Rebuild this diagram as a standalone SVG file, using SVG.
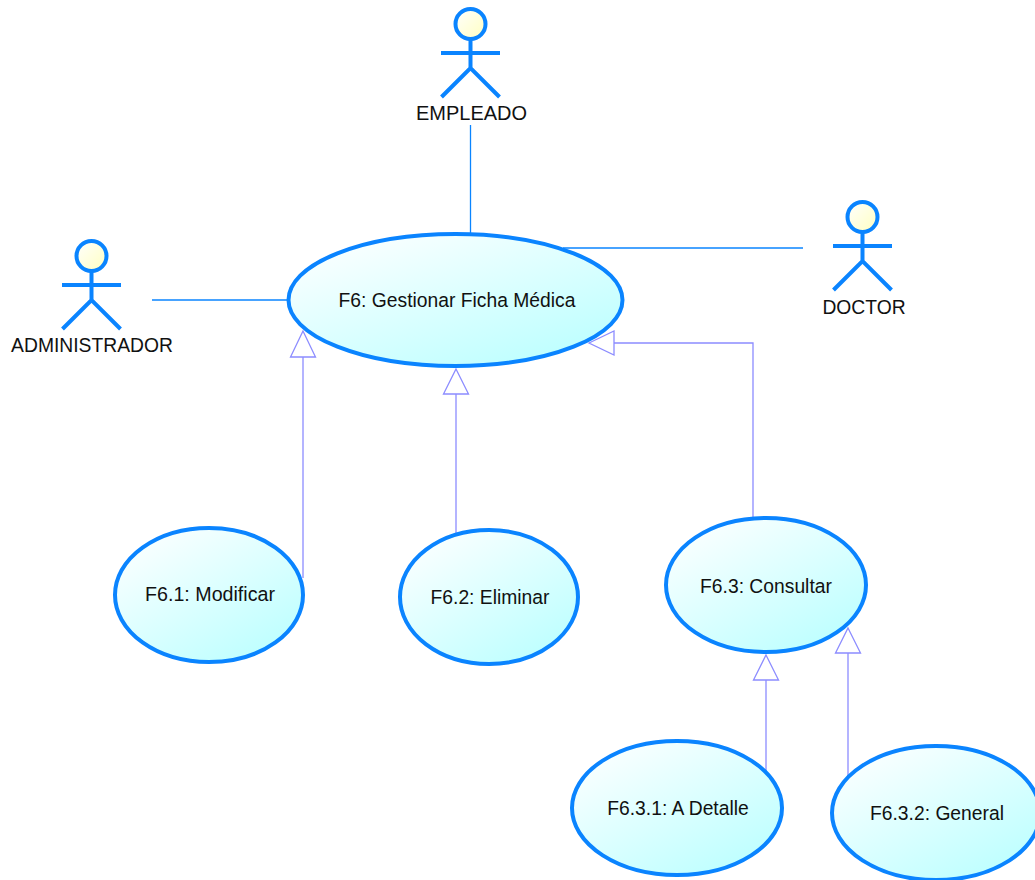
<svg xmlns="http://www.w3.org/2000/svg" width="1035" height="880" viewBox="0 0 1035 880">
<style>
.uc{stroke:#0a84ff;stroke-width:4;fill:url(#g)}
.lbl{font-family:"Liberation Sans",Arial,sans-serif;font-size:19.300px;fill:#111;text-anchor:middle}
.st{stroke:#0a84ff;stroke-width:4;fill:none}
.hd{stroke:#0a84ff;stroke-width:4;fill:url(#h)}
.assoc{stroke:#0a84ff;stroke-width:1.3;fill:none}
.gen{stroke:#8c8cff;stroke-width:1.3;fill:none}
.tri{stroke:#8c8cff;stroke-width:1.3;fill:#fff}
</style>
<defs>
<linearGradient id="g" x1="0.1" y1="0" x2="0.9" y2="1"><stop offset="0" stop-color="#fff"/><stop offset="1" stop-color="#b8ffff"/></linearGradient>
<linearGradient id="h" x1="0" y1="0" x2="1" y2="1"><stop offset="0" stop-color="#fff"/><stop offset="1" stop-color="#ffffc0"/></linearGradient>
<g id="stick"><circle class="hd" cx="0" cy="0" r="15"/><path class="st" d="M0 15V44M-29.500 29H29.500M-29 73L0 44L29 73"/></g>
</defs>
<g id="connectors">
<path class="assoc" d="M470.500 125V234"/>
<path class="assoc" d="M563 248H803"/>
<path class="assoc" d="M152 300H288"/>
<path class="gen" d="M303 357V578"/>
<path class="tri" d="M303 331L315.500 357H290.500Z"/>
<path class="gen" d="M456 394V533"/>
<path class="tri" d="M456 369L468.500 394H443.500Z"/>
<path class="gen" d="M753 519V343H613"/>
<path class="tri" d="M589 343L614 331V355Z"/>
<path class="gen" d="M766 680V771"/>
<path class="tri" d="M766 655L778.500 680H753.500Z"/>
<path class="gen" d="M848 653V776"/>
<path class="tri" d="M848 628L860.500 653H835.500Z"/>
</g>
<g id="empleado"><use href="#stick" x="470.500" y="24"/><text class="lbl" x="471.500" y="120" textLength="111" lengthAdjust="spacingAndGlyphs">EMPLEADO</text></g>
<g id="doctor"><use href="#stick" x="862.500" y="217"/><text class="lbl" x="864" y="314">DOCTOR</text></g>
<g id="administrador"><use href="#stick" x="91.500" y="256"/><text class="lbl" x="92" y="352">ADMINISTRADOR</text></g>
<g id="f6"><ellipse class="uc" cx="455.500" cy="300" rx="167" ry="66"/><text class="lbl" x="457" y="307">F6: Gestionar Ficha Médica</text></g>
<g id="f61"><ellipse class="uc" cx="209" cy="595" rx="94" ry="67"/><text class="lbl" x="210" y="601" textLength="130" lengthAdjust="spacingAndGlyphs">F6.1: Modificar</text></g>
<g id="f62"><ellipse class="uc" cx="489" cy="597" rx="89" ry="67"/><text class="lbl" x="490" y="604">F6.2: Eliminar</text></g>
<g id="f63"><ellipse class="uc" cx="766" cy="585" rx="100" ry="67"/><text class="lbl" x="766" y="593">F6.3: Consultar</text></g>
<g id="f631"><ellipse class="uc" cx="677" cy="808" rx="105" ry="67"/><text class="lbl" x="678" y="815">F6.3.1: A Detalle</text></g>
<g id="f632"><ellipse class="uc" cx="936" cy="813" rx="104" ry="67"/><text class="lbl" x="937" y="820">F6.3.2: General</text></g>
</svg>
